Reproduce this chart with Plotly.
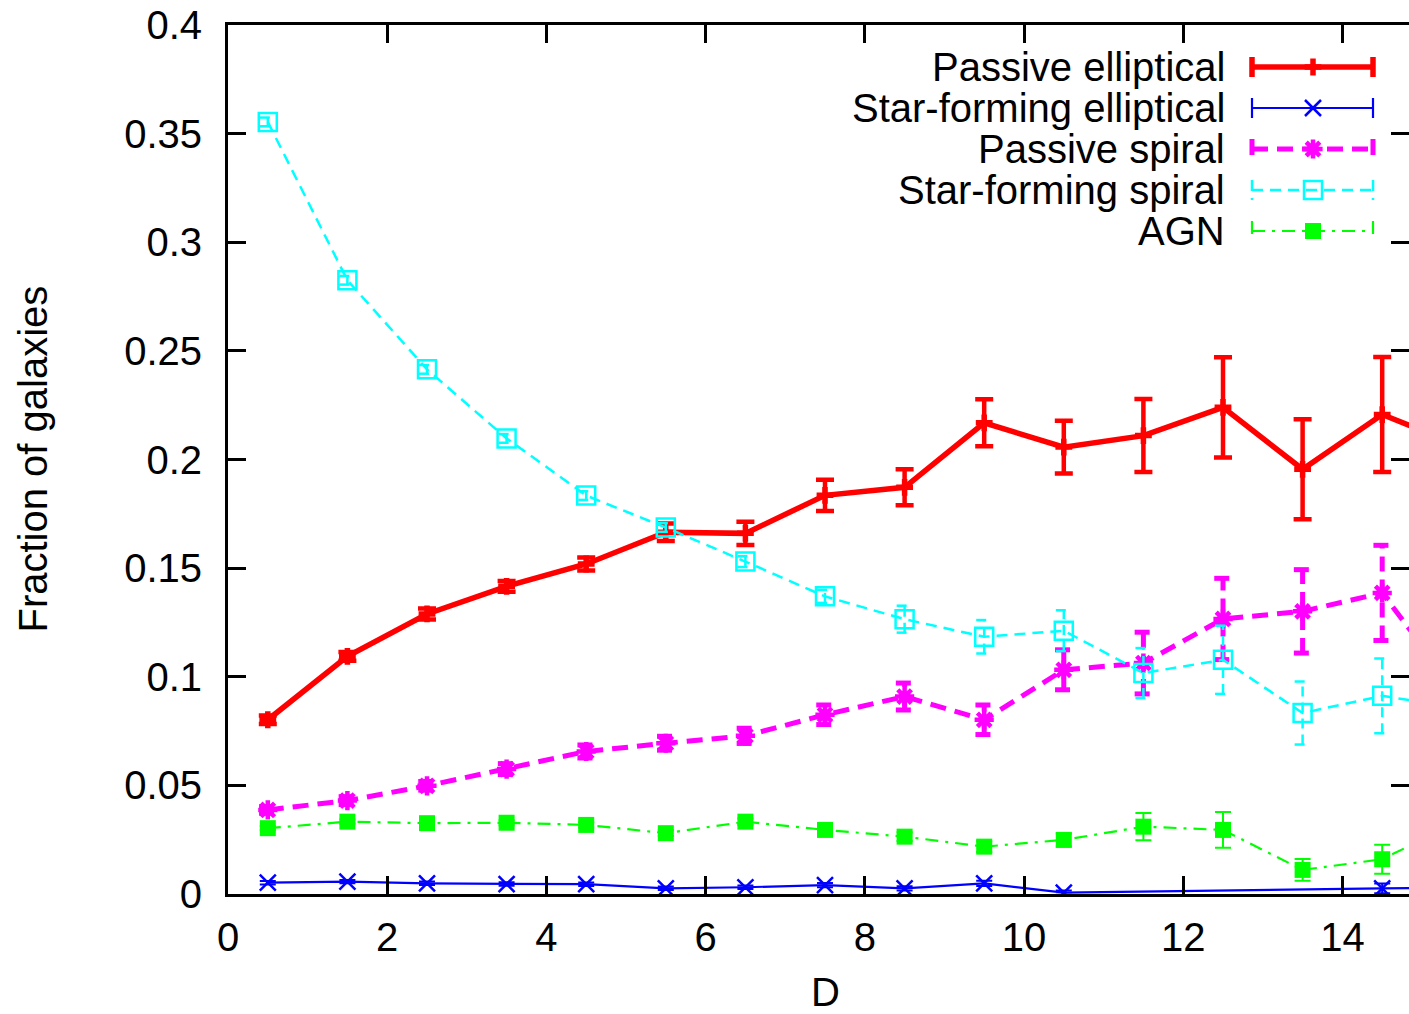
import plotly.graph_objects as go

# ---- data -------------------------------------------------------------
D = [0.5, 1.5, 2.5, 3.5, 4.5, 5.5, 6.5, 7.5, 8.5, 9.5, 10.5, 11.5, 12.5, 13.5, 14.5, 15.5]

passive_ell = [0.0802, 0.1094, 0.1289, 0.1416, 0.1519, 0.1665, 0.1660, 0.1835,
               0.1872, 0.2169, 0.2057, 0.2110, 0.2240, 0.1955, 0.2207, 0.2060]
passive_ell_err = [0.0020, 0.0020, 0.0025, 0.0025, 0.0030, 0.0040, 0.0053, 0.0072,
                   0.0083, 0.0108, 0.0121, 0.0168, 0.0231, 0.0230, 0.0265, 0.0300]

sf_ell_D = [0.5, 1.5, 2.5, 3.5, 4.5, 5.5, 6.5, 7.5, 8.5, 9.5, 10.5, 14.5, 15.5]
sf_ell = [0.0052, 0.0057, 0.0049, 0.0046, 0.0045, 0.0026, 0.0031, 0.0041,
          0.0026, 0.0049, 0.0006, 0.0026, 0.0028]
sf_ell_err = [0.0008, 0.0008, 0.0008, 0.0008, 0.0008, 0.0008, 0.0008, 0.0010,
              0.0010, 0.0012, 0.0010, 0.0022, 0.0025]

passive_sp = [0.0387, 0.0430, 0.0498, 0.0575, 0.0656, 0.0694, 0.0728, 0.0825,
              0.0909, 0.0802, 0.1032, 0.1063, 0.1266, 0.1301, 0.1386, 0.0900]
passive_sp_err = [0.0015, 0.0018, 0.0020, 0.0025, 0.0030, 0.0032, 0.0035, 0.0045,
                  0.0062, 0.0068, 0.0092, 0.0142, 0.0187, 0.0192, 0.0219, 0.0300]

sf_sp = [0.3554, 0.2825, 0.2415, 0.2097, 0.1834, 0.1687, 0.1530, 0.1370,
         0.1265, 0.1184, 0.1212, 0.1017, 0.1078, 0.0833, 0.0912, 0.0855]
sf_sp_err = [0.0020, 0.0020, 0.0020, 0.0020, 0.0020, 0.0020, 0.0025, 0.0030,
             0.0062, 0.0077, 0.0094, 0.0115, 0.0157, 0.0145, 0.0172, 0.0200]

agn = [0.0303, 0.0333, 0.0326, 0.0328, 0.0318, 0.0280, 0.0333, 0.0295,
       0.0264, 0.0218, 0.0249, 0.0310, 0.0295, 0.0111, 0.0160, 0.0340]
agn_err = [0.0010, 0.0010, 0.0010, 0.0012, 0.0012, 0.0013, 0.0015, 0.0018,
           0.0020, 0.0025, 0.0030, 0.0063, 0.0082, 0.0050, 0.0067, 0.0100]

x_ticks = [0, 2, 4, 6, 8, 10, 12, 14]
y_ticks = [0, 0.05, 0.1, 0.15, 0.2, 0.25, 0.3, 0.35, 0.4]

names = ["Passive elliptical", "Star-forming elliptical", "Passive spiral",
         "Star-forming spiral", "AGN"]

# ---- page geometry ----------------------------------------------------
W, H = 1409, 1014
ML, MT, MB = 228, 25, 120
PLOT_BOTTOM = H - MB
PX_PER_UNIT = 79.6
X_MAX = (W - ML) / PX_PER_UNIT

FONT = "Liberation Sans, Arial, Helvetica, sans-serif"

RED, BLUE, MAGENTA, CYAN, GREEN = "#ff0000", "#0000ff", "#ff00ff", "#00ffff", "#00ff00"

styles = {
    "pe": dict(line=dict(color=RED, width=5.5),
               marker=dict(symbol="cross-thin", size=12, color=RED,
                           line=dict(color=RED, width=5.5))),
    "se": dict(line=dict(color=BLUE, width=2.2),
               marker=dict(symbol="x-thin", size=16, color=BLUE,
                           line=dict(color=BLUE, width=2.5))),
    "ps": dict(line=dict(color=MAGENTA, width=5, dash="16px,9px"),
               marker=dict(symbol="asterisk", size=16, color=MAGENTA,
                           line=dict(color=MAGENTA, width=4.5))),
    "ss": dict(line=dict(color=CYAN, width=2.5, dash="11px,7px"),
               marker=dict(symbol="square-open", size=18, color=CYAN,
                           line=dict(color=CYAN, width=2.5))),
    "agn": dict(line=dict(color=GREEN, width=2.2, dash="13px,7px,3px,7px"),
                marker=dict(symbol="square", size=16, color=GREEN,
                            line=dict(color=GREEN, width=0))),
}


def bar_path(xs, ys, errs, half):
    """Vertical error bars with end caps as one broken polyline."""
    px, py = [], []
    for x, y, e in zip(xs, ys, errs):
        px += [x, x, None, x - half, x + half, None, x - half, x + half, None]
        py += [y - e, y + e, None, y + e, y + e, None, y - e, y - e, None]
    return px, py


fig = go.Figure()

# Passive elliptical: solid thick line with error bars
fig.add_trace(go.Scatter(
    x=D, y=passive_ell, mode="lines+markers", name=names[0], showlegend=False,
    error_y=dict(type="data", array=passive_ell_err, color=RED, thickness=4.5, width=9),
    **styles["pe"]))

# Star-forming elliptical
fig.add_trace(go.Scatter(
    x=sf_ell_D, y=sf_ell, mode="lines+markers", name=names[1], showlegend=False,
    error_y=dict(type="data", array=sf_ell_err, color=BLUE, thickness=2, width=8),
    **styles["se"]))

# Passive spiral: dashed error bars drawn as a separate path
bx, by = bar_path(D, passive_sp, passive_sp_err, 0.11)
fig.add_trace(go.Scatter(x=bx, y=by, mode="lines", showlegend=False, hoverinfo="skip",
                         line=dict(color=MAGENTA, width=5, dash="15px,8px")))
fig.add_trace(go.Scatter(x=D, y=passive_sp, mode="lines+markers", name=names[2],
                         showlegend=False, **styles["ps"]))

# Star-forming spiral
bx, by = bar_path(D, sf_sp, sf_sp_err, 0.1)
fig.add_trace(go.Scatter(x=bx, y=by, mode="lines", showlegend=False, hoverinfo="skip",
                         line=dict(color=CYAN, width=2.5, dash="10px,6px")))
fig.add_trace(go.Scatter(x=D, y=sf_sp, mode="lines+markers", name=names[3],
                         showlegend=False, **styles["ss"]))

# AGN
fig.add_trace(go.Scatter(
    x=D, y=agn, mode="lines+markers", name=names[4], showlegend=False,
    error_y=dict(type="data", array=agn_err, color=GREEN, thickness=2, width=8),
    **styles["agn"]))

# empty trace so the right-hand tick axis is laid out
fig.add_trace(go.Scatter(x=[], y=[], xaxis="x", yaxis="y2", showlegend=False))

# ---- key (text right-aligned, sample to the right) --------------------
KEY_TEXT_X = 1227
KEY_X0, KEY_X1, KEY_XM = 1252, 1373, 1313
KEY_Y0, KEY_DY = 67, 41
CAP = 10
annotations = []
for i, key in enumerate(["pe", "se", "ps", "ss", "agn"]):
    yy = KEY_Y0 + i * KEY_DY
    st = styles[key]
    fig.add_trace(go.Scatter(
        x=[KEY_X0, KEY_X1, None, KEY_X0, KEY_X0, None, KEY_X1, KEY_X1],
        y=[yy, yy, None, yy - CAP, yy + CAP, None, yy - CAP, yy + CAP],
        xaxis="x3", yaxis="y3", mode="lines", showlegend=False, hoverinfo="skip",
        line=st["line"]))
    fig.add_trace(go.Scatter(
        x=[KEY_XM], y=[yy], xaxis="x3", yaxis="y3", mode="markers",
        showlegend=False, hoverinfo="skip", marker=st["marker"], cliponaxis=False))
    annotations.append(dict(
        x=KEY_TEXT_X, y=yy, xref="x3", yref="y3", text=names[i], showarrow=False,
        xanchor="right", yanchor="middle", font=dict(family=FONT, size=40, color="black")))

# axis titles
annotations.append(dict(
    x=(825 - ML) / (W - ML), y=(PLOT_BOTTOM - 992) / (PLOT_BOTTOM - MT),
    xref="paper", yref="paper", text="D", showarrow=False,
    xanchor="center", yanchor="middle", font=dict(family=FONT, size=40, color="black")))
annotations.append(dict(
    x=(32 - ML) / (W - ML), y=0.5, xref="paper", yref="paper",
    text="Fraction of galaxies", textangle=-90, showarrow=False,
    xanchor="center", yanchor="middle", font=dict(family=FONT, size=40, color="black")))

axis_common = dict(showgrid=False, zeroline=False, ticks="inside", ticklen=18,
                   tickwidth=2.5, tickcolor="black", linecolor="black", linewidth=3)

fig.update_layout(
    width=W, height=H,
    margin=dict(l=ML, r=0, t=MT, b=MB, pad=0),
    paper_bgcolor="white", plot_bgcolor="white",
    font=dict(family=FONT, size=40, color="black"),
    showlegend=False,
    xaxis=dict(range=[0, X_MAX], tickvals=x_ticks, showline=True, mirror="ticks",
               ticklabelstandoff=6, tickfont=dict(family=FONT, size=40),
               **axis_common),
    yaxis=dict(range=[0, 0.4], tickvals=y_ticks, showline=True, mirror=False,
               ticklabelstandoff=15, tickfont=dict(family=FONT, size=40),
               **axis_common),
    yaxis2=dict(range=[0, 0.4], tickvals=y_ticks, overlaying="y", side="right",
                showticklabels=False, showline=False, showgrid=False, zeroline=False,
                ticks="inside", ticklen=18, tickwidth=2.5, tickcolor="black"),
    xaxis3=dict(range=[ML, W], overlaying="x", anchor="y3", visible=False),
    yaxis3=dict(range=[PLOT_BOTTOM, MT], overlaying="y", anchor="x3", visible=False),
    annotations=annotations,
)

fig.write_html("out.html")
